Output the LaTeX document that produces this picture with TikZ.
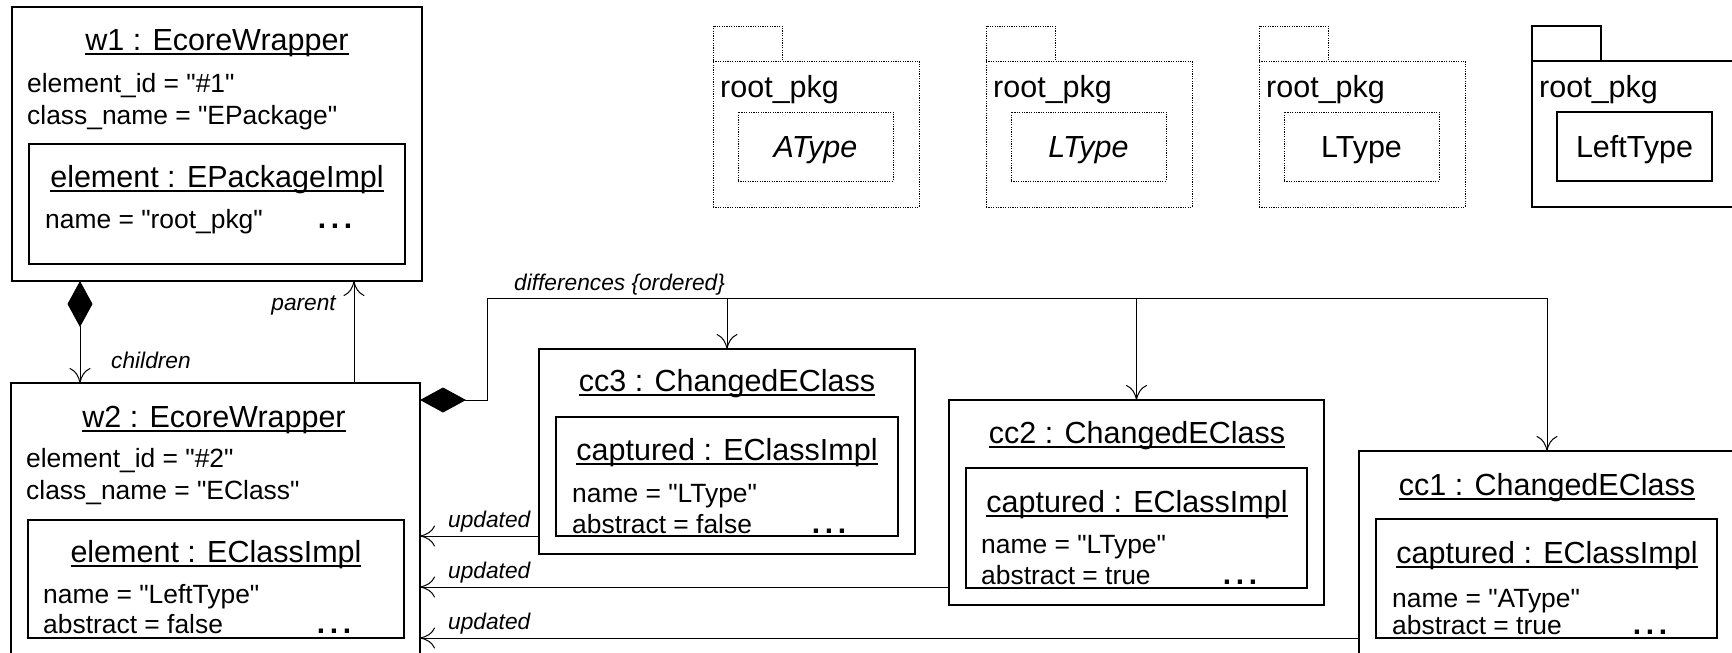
\documentclass[tikz,border=0pt]{standalone}
\usepackage{fontspec}
\setmainfont{Liberation Sans}[Ligatures=TeXOff]
\usetikzlibrary{arrows.meta}
\newcommand{\ulx}[1]{\setbox0\hbox{#1}\rlap{\vrule width\wd0 height -2.5pt depth 4.5pt}\box0}
\newcommand{\dotsx}{.\kern4.6pt.\kern4.6pt.}
\begin{document}
\begin{tikzpicture}[x=1pt,y=-1pt,
  obj/.style={draw, line width=1.3pt, rectangle, inner sep=0pt, outer sep=0pt},
  pkd/.style={draw, line width=1pt, dash pattern=on 1.2pt off 1.2pt, rectangle, inner sep=0pt, outer sep=0pt},
  pks/.style={draw, line width=1.2pt, rectangle, inner sep=0pt, outer sep=0pt},
  ttl/.style={font=\fontsize{30.5}{36}\selectfont, anchor=base, inner sep=0pt},
  att/.style={font=\fontsize{26.4}{31}\selectfont, anchor=base west, inner sep=0pt},
  pkt/.style={font=\fontsize{30.5}{36}\selectfont, inner sep=0pt},
  dts/.style={font=\fontsize{30}{31}\selectfont\bfseries, anchor=base, inner sep=0pt},
  lbl/.style={font=\fontsize{22.7}{27}\selectfont\itshape, inner sep=0pt},
  con/.style={line width=1pt},
  arr/.style={con, -{Computer Modern Rightarrow[length=15pt,width=21pt]}},
  comp/.style={con, {Diamond[length=46pt,width=25pt]}-{Computer Modern Rightarrow[length=15pt,width=21pt]}}
]
\useasboundingbox (0,0) rectangle (1732,653);
\clip (0,0) rectangle (1732,653);

% ---------- w1 ----------
\node[obj, minimum width=410pt, minimum height=274pt] (w1) at (217,144) {};
\node[obj, minimum width=376pt, minimum height=120pt] (w1i) at (217,204) {};
\node[ttl] (w1t) at (217,50) {\ulx{w1 : EcoreWrapper}};
\node[att] (w1a) at (27,92) {element\_id = "\#1"};
\node[att] (w1b) at (27,124) {class\_name = "EPackage"};
\node[ttl] (w1it) at (217,187) {\ulx{element : EPackageImpl}};
\node[att] (w1ia) at (45,228) {name = "root\_pkg"};
\node[dts] (w1d) at (335,228) {\dotsx};

% ---------- w2 ----------
\node[obj, minimum width=409pt, minimum height=337pt] (w2) at (215.5,551.5) {};
\node[obj, minimum width=376pt, minimum height=118pt] (w2i) at (216,579) {};
\node[ttl] (w2t) at (214,427) {\ulx{w2 : EcoreWrapper}};
\node[att] (w2a) at (26,467) {element\_id = "\#2"};
\node[att] (w2b) at (26,499) {class\_name = "EClass"};
\node[ttl] (w2it) at (216,562) {\ulx{element : EClassImpl}};
\node[att] (w2ia) at (43,603) {name = "LeftType"};
\node[att] (w2ib) at (43,633) {abstract = false};
\node[dts] (w2d) at (334,633) {\dotsx};

% ---------- cc3 ----------
\node[obj, minimum width=376pt, minimum height=205pt] (cc3) at (727,451.5) {};
\node[obj, minimum width=342pt, minimum height=119pt] (cc3i) at (727,476.5) {};
\node[ttl] (cc3t) at (727,391) {\ulx{cc3 : ChangedEClass}};
\node[ttl] (cc3it) at (727,460) {\ulx{captured : EClassImpl}};
\node[att] (cc3ia) at (572,502) {name = "LType"};
\node[att] (cc3ib) at (572,533) {abstract = false};
\node[dts] (cc3d) at (829,533) {\dotsx};

% ---------- cc2 ----------
\node[obj, minimum width=375pt, minimum height=205pt] (cc2) at (1136.5,502.5) {};
\node[obj, minimum width=341pt, minimum height=120pt] (cc2i) at (1136.5,528) {};
\node[ttl] (cc2t) at (1137,443) {\ulx{cc2 : ChangedEClass}};
\node[ttl] (cc2it) at (1137,512) {\ulx{captured : EClassImpl}};
\node[att] (cc2ia) at (981,553) {name = "LType"};
\node[att] (cc2ib) at (981,584) {abstract = true};
\node[dts] (cc2d) at (1240,584) {\dotsx};

% ---------- cc1 ----------
\node[obj, minimum width=376pt, minimum height=205pt] (cc1) at (1547,553.5) {};
\node[obj, minimum width=341pt, minimum height=119pt] (cc1i) at (1546.5,578.5) {};
\node[ttl] (cc1t) at (1547,495) {\ulx{cc1 : ChangedEClass}};
\node[ttl] (cc1it) at (1547,563) {\ulx{captured : EClassImpl}};
\node[att] (cc1ia) at (1392,607) {name = "AType"};
\node[att] (cc1ib) at (1392,634) {abstract = true};
\node[dts] (cc1d) at (1650,634) {\dotsx};

% ---------- packages ----------
\foreach \L/\nm/\txt/\st in {713/p1/{\itshape AType}/pkd, 986/p2/{\itshape LType}/pkd, 1259/p3/{LType}/pkd, 1532/p4/{LeftType}/pks}{
  \node[\st, minimum width=69pt, minimum height=35pt] (\nm tab) at (\L+34.5,43.5) {};
  \node[\st, minimum width=206pt, minimum height=146pt] (\nm) at (\L+103,134) {};
  \node[\st, minimum width=155pt, minimum height=69pt] (\nm i) at (\L+102.5,146.5) {};
  \node[pkt, anchor=base west] (\nm n) at (\L+7,97) {root\_pkg};
  \node[pkt, anchor=base] (\nm t) at (\L+102.5,157) {\txt};
}

% ---------- connectors ----------
\coordinate (cx) at (80,0);
\coordinate (px) at (354,0);
\coordinate (dy) at (0,400);
\coordinate (bus) at (487,298);
\coordinate (u1) at (0,536);
\coordinate (u2) at (0,587);
\coordinate (u3) at (0,638);

\draw[comp] (w1.south -| cx) -- (w2.north -| cx);
\draw[arr] (w2.north -| px) -- (w1.south -| px);
\node[lbl, anchor=base west] (lchildren) at (111,368) {children};
\node[lbl, anchor=base east] (lparent) at (336,310) {parent};

\draw[comp] (w2.east |- dy) -| (bus) -| (cc1.north);
\draw[arr] (bus -| cc3.north) -- (cc3.north);
\draw[arr] (bus -| cc2.north) -- (cc2.north);
\node[lbl, anchor=base west] (ldiff) at (514,290) {differences \{ordered\}};

\draw[arr] (cc3.west |- u1) -- (w2.east |- u1);
\draw[arr] (cc2.west |- u2) -- (w2.east |- u2);
\draw[arr] (cc1.west |- u3) -- (w2.east |- u3);
\node[lbl, anchor=base west] (lu1) at (448,527) {updated};
\node[lbl, anchor=base west] (lu2) at (448,578) {updated};
\node[lbl, anchor=base west] (lu3) at (448,629) {updated};
\end{tikzpicture}
\end{document}
